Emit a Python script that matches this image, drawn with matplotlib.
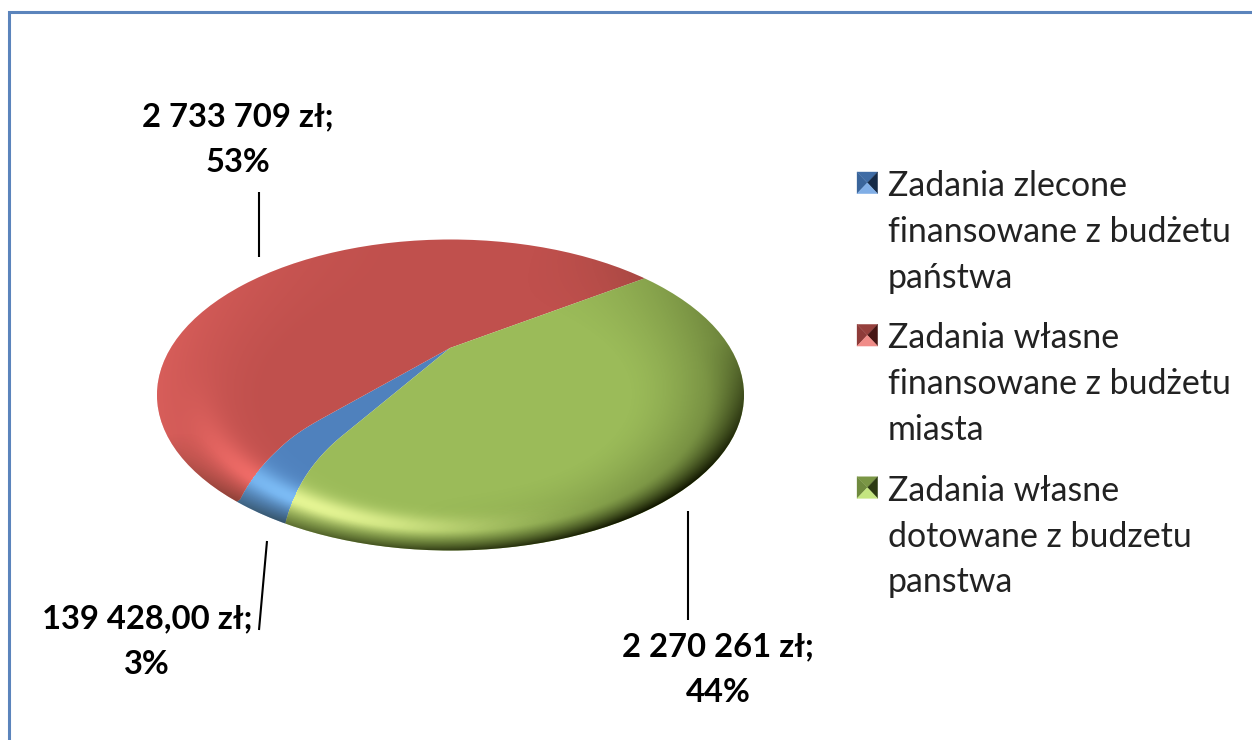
import numpy as np
import matplotlib
matplotlib.use("Agg")
import matplotlib.pyplot as plt
from matplotlib.patches import Ellipse, Polygon
from matplotlib.legend_handler import HandlerBase
from matplotlib.path import Path
from matplotlib.transforms import Affine2D, Transform

plt.rcParams['font.family'] = ['Lato', 'DejaVu Sans']

# ---- data ----
categories = ["Zadania zlecone\nfinansowane z budżetu\npaństwa",
              "Zadania własne\nfinansowane z budżetu\nmiasta",
              "Zadania własne\ndotowane z budzetu\npanstwa"]
values = [139428.0, 2733709, 2270261]
value_labels = ["139 428,00 zł;\n3%", "2 733 709 zł;\n53%", "2 270 261 zł;\n44%"]
colors = ["#4F81BD", "#C0504D", "#9BBB59"]
light_colors = [(0.52, 0.78, 1.0), (1.0, 0.46, 0.44), (0.95, 1.0, 0.62)]
key_shades = [("#3A659B", "#3F6CA5", "#152A47", "#80AEE6"),
              ("#8E3B39", "#96403D", "#471614", "#F08C88"),
              ("#6F8A3E", "#7A9645", "#2C3A12", "#C4E580")]

# ---- layout (pixel coordinates) ----
W, H = 1252, 740
fig = plt.figure(figsize=(W / 100, H / 100), dpi=100, facecolor="white")
ax = fig.add_axes([0, 0, 1, 1])

cx, cy, a, b = 450.5, 395.0, 293.5, 155.5
apex = np.array([450.0, 348.0])
START = 221.0
flat_dirs = np.array([[190, -68],    # green / red boundary
                      [-167, 92],    # red / blue boundary
                      [-113, 92]], float)  # blue / green boundary


def bevel_offset(x, y):
    """How far the sloping front edge of the dome moves a point of the flat top."""
    dx, dy = (x - cx) / a, (y - cy) / b
    rho = np.hypot(dx, dy) + 1e-6
    s = np.clip((rho - 0.45) / 0.55, 0, 1) ** 2
    t = np.clip(dy / 0.35, 0, 1)
    w = t * t * (3 - 2 * t)
    return -np.tanh(4 * dx / rho) * 33 * s * w, 18 * s * w


class BevelWarp(Transform):
    input_dims = output_dims = 2
    is_separable = False
    has_inverse = False

    def transform_non_affine(self, values):
        v = np.asarray(values, float)
        ox, oy = bevel_offset(v[:, 0], v[:, 1])
        return np.c_[v[:, 0] + ox, v[:, 1] + oy]

    def transform_path_non_affine(self, path):
        poly = path.to_polygons(closed_only=True)[0]
        dense = [np.linspace(p, q, 400, endpoint=False) for p, q in zip(poly[:-1], poly[1:])]
        pts = np.vstack(dense + [poly[:1]])
        return Path(self.transform_non_affine(pts))


wedges, _ = ax.pie(values, colors=colors, startangle=START, counterclock=False,
                   radius=1.0, wedgeprops=dict(linewidth=0))

# the disc is tilted: an affine map takes the three true boundary directions
# of the pie to the boundary directions seen on the flat top
fr = np.array(values, float) / np.sum(values)
ang = np.radians([START - 360 * (fr[0] + fr[1]), START - 360 * fr[0], START])
U = np.c_[np.cos(ang), np.sin(ang)]
al, be = np.linalg.solve(np.c_[U[0], U[1]], U[2])
k1, k2 = np.linalg.solve(np.c_[al * flat_dirs[0], be * flat_dirs[1]], flat_dirs[2])
D = np.c_[k1 * flat_dirs[0], k2 * flat_dirs[1]]
A = D @ np.linalg.inv(np.c_[U[0], U[1]])
A = A * 900.0 / np.linalg.svd(A, compute_uv=False).min()
M = np.eye(3)
M[:2, :2] = A
M[:2, 2] = apex
disc = Affine2D(M)

ax.set_aspect("auto")
rim = Ellipse((cx, cy), 2 * a, 2 * b, facecolor="none", edgecolor="none",
              transform=ax.transData)
ax.add_patch(rim)
warp = BevelWarp()
for w in wedges:
    w.set_transform(disc + warp + ax.transData)
    w.set_clip_on(True)
    w.set_clip_path(rim)

# bevel shading
yy, xx = np.mgrid[230:560, 145:755] + 0.5
dx, dy = (xx - cx) / a, (yy - cy) / b
rho = np.hypot(dx, dy) + 1e-6
ux, uy = dx / rho, dy / rho
slope = np.clip((rho - 0.6) / 0.4, 0, 1) ** 1.5

# which slice each pixel belongs to (undo the warp, then the tilt)
qx, qy = xx.copy(), yy.copy()
for _ in range(12):
    ox, oy = bevel_offset(qx, qy)
    qx, qy = xx - ox, yy - oy
inv = np.linalg.inv(A)
px = inv[0, 0] * (qx - apex[0]) + inv[0, 1] * (qy - apex[1])
py = inv[1, 0] * (qx - apex[0]) + inv[1, 1] * (qy - apex[1])
th = (START - np.degrees(np.arctan2(py, px))) % 360
cls = np.searchsorted(np.cumsum(fr) * 360, th).clip(0, 2)
light_rgb = np.array(light_colors)[cls]

lit = np.clip(ux * -0.55 + uy * 0.83, 0, 1)
glow = np.clip(-ux, 0, 1) ** 2 * slope * 0.38
band = lit ** 4 * np.exp(-((rho - 0.85) / 0.07) ** 2) * 0.8
light = np.clip(glow + band, 0, 1)
dark = np.clip(ux * 0.97 + uy * 0.25, 0, 1) ** 1.5 * slope * 0.45
edge = np.clip((rho - 0.87) / 0.13, 0, 1) ** 1.4 * np.clip(uy * 0.95 + ux * 0.3 + 0.05, 0, 1) * 0.72
d_all = np.clip(dark + edge, 0, 1)

light_img = np.dstack([light_rgb, light])
dark_img = np.dstack([np.full(xx.shape + (3,), 0.0) + [0.07, 0.09, 0.0], d_all])
for img, z in ((light_img, 3), (dark_img, 3.1)):
    im = ax.imshow(img, extent=(145, 755, 560, 230), aspect="auto", zorder=z,
                   interpolation="bilinear")
    im.set_clip_path(rim)

# value labels and leader lines
leaders = [((267, 541), (259, 630)), ((259, 192), (259, 257)), ((688, 511), (688, 620))]
label_xy = [(147, 642), (238, 140), (718, 670)]
for txt, (p, q), (tx, ty) in zip(value_labels, leaders, label_xy):
    ax.plot([p[0], q[0]], [p[1], q[1]], color="black", lw=1.5, zorder=4,
            solid_capstyle="butt")
    ax.text(tx, ty, txt, ha="center", va="center", fontsize=23.6, fontweight="bold",
            color="black", linespacing=1.7, zorder=5)


# legend
class PyramidKey:
    def __init__(self, shades):
        self.shades = shades


class HandlerPyramid(HandlerBase):
    def create_artists(self, legend, orig, xd, yd, width, height, fontsize, trans):
        x0, y0 = -xd, -yd + 36.0   # key sits beside the first line of the label
        x1, y1 = x0 + width, y0 + height
        mx, my = (x0 + x1) / 2, (y0 + y1) / 2
        left, top, right, bottom = orig.shades
        tris = [([(x0, y0), (x0, y1), (mx, my)], left),
                ([(x0, y1), (x1, y1), (mx, my)], top),
                ([(x1, y1), (x1, y0), (mx, my)], right),
                ([(x1, y0), (x0, y0), (mx, my)], bottom)]
        return [Polygon(p, closed=True, facecolor=c, edgecolor=c, linewidth=0.2,
                        transform=trans) for p, c in tris]


keys = [PyramidKey(s) for s in key_shades]
leg = ax.legend(keys, categories, loc="upper left", bbox_to_anchor=(857, 170),
                bbox_transform=ax.transData, frameon=False, fontsize=24.4,
                handler_map={PyramidKey: HandlerPyramid()},
                handlelength=0.61, handleheight=0.61, handletextpad=0.3,
                labelspacing=0.85, borderpad=0, borderaxespad=0)
for t in leg.get_texts():
    t.set_linespacing(1.53)
    t.set_color("#222222")

# frame of the picture
ax.plot([8.5, 8.5, 1252], [740, 11.5, 11.5], color="#5B84BC", lw=2.2, zorder=6,
        solid_joinstyle="miter")

ax.set_xlim(0, W)
ax.set_ylim(H, 0)
ax.axis("off")
fig.savefig("out.png", dpi=100, facecolor="white")
